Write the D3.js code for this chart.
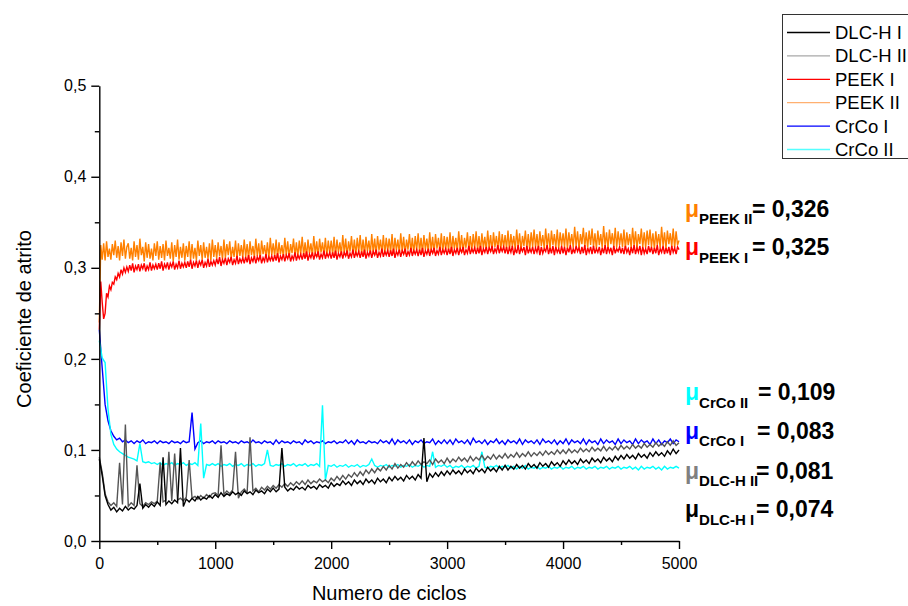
<!DOCTYPE html>
<html>
<head>
<meta charset="utf-8">
<script src="https://cdn.jsdelivr.net/npm/d3@7"></script>
<style>
  html, body { margin: 0; padding: 0; background: #fff; }
  svg { display: block; font-family: Arial, "Liberation Sans", Helvetica, sans-serif; }
</style>
</head>
<body>
<svg id="chart" width="908" height="606"></svg>
<script>
// ---------------- DATA ----------------
const cycleMax = 5000;

const seriesNames = ["DLC-H I", "DLC-H II", "PEEK I", "PEEK II", "CrCo I", "CrCo II"];
const seriesColors = ["#000000", "#555555", "#ff0000", "#ff8000", "#0000ff", "#00ffff"];
const legendColors = ["#000000", "#a8a8a8", "#ff0000", "#ffb070", "#0000ff", "#55ffff"];
// sampling step (cycles) of each trace, same order as seriesNames
const seriesSteps = [25, 25, 12.5, 12.5, 25, 25];

const dlcH1 = [
0.090,0.072,0.050,0.040,0.034,0.037,0.032,0.036,0.033,0.038,0.034,0.037,0.035,0.039,0.063,0.036,0.040,0.037,0.041,0.038,
0.043,0.039,0.092,0.040,0.044,0.041,0.045,0.042,0.102,0.038,0.046,0.043,0.047,0.044,0.049,0.045,0.048,0.046,0.050,0.047,
0.051,0.048,0.053,0.049,0.052,0.050,0.054,0.051,0.053,0.050,0.055,0.052,0.054,0.051,0.056,0.053,0.055,0.052,0.057,0.054,
0.058,0.054,0.057,0.102,0.059,0.055,0.058,0.056,0.060,0.057,0.059,0.056,0.061,0.058,0.060,0.057,0.062,0.059,0.061,0.058,
0.064,0.060,0.063,0.061,0.066,0.062,0.065,0.061,0.067,0.063,0.066,0.062,0.068,0.064,0.067,0.063,0.069,0.065,0.068,0.064,
0.070,0.066,0.071,0.067,0.070,0.066,0.072,0.068,0.071,0.067,0.073,0.069,0.113,0.065,0.074,0.070,0.075,0.071,0.076,0.072,
0.077,0.073,0.078,0.074,0.077,0.073,0.079,0.075,0.078,0.074,0.080,0.076,0.079,0.075,0.081,0.077,0.080,0.076,0.082,0.078,
0.083,0.078,0.082,0.079,0.084,0.080,0.083,0.079,0.085,0.081,0.084,0.080,0.086,0.082,0.085,0.081,0.087,0.083,0.086,0.082,
0.088,0.084,0.089,0.085,0.088,0.084,0.090,0.086,0.089,0.085,0.091,0.087,0.090,0.086,0.092,0.088,0.091,0.087,0.093,0.089,
0.094,0.090,0.095,0.091,0.094,0.090,0.096,0.092,0.095,0.091,0.097,0.093,0.098,0.094,0.097,0.093,0.099,0.095,0.101,0.096,
0.100];

const dlcH2 = [
0.092,0.075,0.052,0.043,0.039,0.042,0.038,0.086,0.040,0.128,0.038,0.042,0.039,0.083,0.041,0.038,0.042,0.040,0.043,0.041,
0.044,0.086,0.043,0.045,0.098,0.044,0.096,0.045,0.047,0.044,0.048,0.089,0.047,0.049,0.046,0.050,0.047,0.051,0.048,0.052,
0.053,0.050,0.105,0.051,0.055,0.052,0.056,0.098,0.047,0.054,0.057,0.053,0.114,0.055,0.058,0.054,0.059,0.056,0.060,0.057,
0.061,0.058,0.062,0.059,0.063,0.060,0.064,0.061,0.065,0.062,0.066,0.062,0.067,0.063,0.066,0.064,0.068,0.065,0.067,0.064,
0.069,0.066,0.071,0.067,0.072,0.068,0.073,0.070,0.075,0.071,0.076,0.072,0.078,0.074,0.079,0.075,0.080,0.077,0.082,0.078,
0.083,0.079,0.085,0.080,0.084,0.081,0.086,0.082,0.087,0.083,0.088,0.084,0.087,0.085,0.089,0.084,0.090,0.086,0.089,0.085,
0.091,0.086,0.090,0.087,0.092,0.088,0.091,0.087,0.093,0.088,0.092,0.089,0.094,0.089,0.093,0.090,0.095,0.090,0.094,0.091,
0.096,0.091,0.095,0.092,0.097,0.092,0.096,0.093,0.098,0.093,0.097,0.094,0.098,0.094,0.099,0.095,0.098,0.095,0.100,0.096,
0.100,0.096,0.101,0.097,0.100,0.097,0.102,0.098,0.101,0.098,0.103,0.099,0.102,0.099,0.104,0.099,0.103,0.100,0.104,0.100,
0.105,0.101,0.104,0.101,0.106,0.102,0.105,0.102,0.107,0.103,0.106,0.103,0.108,0.104,0.107,0.104,0.109,0.105,0.110,0.105,
0.108];

const peek1 = [
0.232,0.285,0.262,0.244,0.250,0.272,0.268,0.280,0.276,0.284,0.282,0.290,0.287,0.294,0.290,0.298,0.293,0.300,0.295,0.301,
0.296,0.303,0.297,0.305,0.295,0.302,0.298,0.304,0.296,0.303,0.299,0.305,0.296,0.302,0.298,0.306,0.297,0.303,0.299,0.304,
0.298,0.305,0.299,0.307,0.297,0.304,0.300,0.306,0.298,0.305,0.301,0.307,0.298,0.304,0.300,0.308,0.299,0.305,0.301,0.306,
0.300,0.307,0.301,0.309,0.299,0.306,0.302,0.308,0.300,0.307,0.303,0.309,0.300,0.306,0.302,0.310,0.301,0.307,0.303,0.308,
0.303,0.310,0.304,0.312,0.302,0.309,0.305,0.311,0.303,0.310,0.306,0.312,0.303,0.309,0.305,0.313,0.304,0.310,0.306,0.311,
0.305,0.312,0.306,0.314,0.304,0.311,0.307,0.313,0.305,0.312,0.308,0.314,0.305,0.311,0.307,0.315,0.306,0.312,0.308,0.313,
0.307,0.314,0.308,0.316,0.306,0.313,0.309,0.315,0.307,0.314,0.310,0.316,0.307,0.313,0.309,0.317,0.308,0.314,0.310,0.315,
0.309,0.316,0.310,0.318,0.308,0.315,0.311,0.317,0.309,0.316,0.312,0.318,0.309,0.315,0.311,0.319,0.310,0.316,0.312,0.317,
0.310,0.317,0.311,0.319,0.309,0.316,0.312,0.318,0.310,0.317,0.313,0.319,0.310,0.316,0.312,0.320,0.311,0.317,0.313,0.318,
0.311,0.318,0.312,0.320,0.310,0.317,0.313,0.319,0.311,0.318,0.314,0.320,0.311,0.317,0.313,0.321,0.312,0.318,0.314,0.319,
0.312,0.319,0.313,0.321,0.311,0.318,0.314,0.320,0.312,0.319,0.315,0.321,0.312,0.318,0.314,0.322,0.313,0.319,0.315,0.320,
0.313,0.320,0.314,0.322,0.312,0.319,0.315,0.321,0.313,0.320,0.316,0.322,0.313,0.319,0.315,0.323,0.314,0.320,0.316,0.321,
0.314,0.321,0.315,0.323,0.313,0.320,0.316,0.322,0.314,0.321,0.317,0.323,0.314,0.320,0.316,0.324,0.315,0.321,0.317,0.322,
0.315,0.322,0.316,0.324,0.314,0.321,0.317,0.323,0.315,0.322,0.318,0.324,0.315,0.321,0.317,0.325,0.316,0.322,0.318,0.323,
0.316,0.323,0.315,0.322,0.317,0.324,0.314,0.321,0.316,0.325,0.315,0.322,0.318,0.323,0.314,0.324,0.316,0.321,0.317,0.323,
0.315,0.322,0.317,0.324,0.314,0.323,0.316,0.321,0.318,0.325,0.315,0.322,0.316,0.324,0.314,0.323,0.317,0.321,0.315,0.324,
0.316,0.323,0.314,0.322,0.317,0.325,0.315,0.321,0.316,0.324,0.318,0.322,0.315,0.323,0.316,0.325,0.314,0.322,0.317,0.323,
0.315,0.324,0.316,0.321,0.317,0.323,0.314,0.322,0.316,0.325,0.315,0.323,0.317,0.322,0.314,0.324,0.316,0.321,0.318,0.323,
0.316,0.322,0.315,0.324,0.317,0.321,0.314,0.323,0.316,0.325,0.315,0.322,0.317,0.324,0.314,0.323,0.316,0.321,0.315,0.324,
0.317,0.323,0.315,0.322,0.316,0.325,0.314,0.321,0.317,0.324,0.315,0.322,0.316,0.323,0.314,0.324,0.317,0.322,0.315,0.323,
0.320];

const peek2 = [
0.240,0.325,0.309,0.327,0.308,0.329,0.312,0.321,0.309,0.326,0.314,0.330,0.311,0.324,0.308,0.328,0.313,0.331,0.310,0.323,
0.327,0.310,0.322,0.308,0.329,0.312,0.325,0.309,0.332,0.314,0.323,0.307,0.328,0.311,0.326,0.310,0.321,0.308,0.327,0.313,
0.329,0.309,0.324,0.311,0.326,0.308,0.330,0.313,0.322,0.310,0.328,0.307,0.325,0.312,0.331,0.309,0.323,0.311,0.327,0.308,
0.324,0.312,0.329,0.309,0.326,0.310,0.322,0.308,0.330,0.313,0.325,0.309,0.328,0.311,0.323,0.310,0.327,0.308,0.331,0.312,
0.325,0.310,0.328,0.313,0.324,0.309,0.331,0.311,0.326,0.314,0.329,0.310,0.323,0.312,0.330,0.309,0.327,0.313,0.325,0.311,
0.331,0.312,0.326,0.310,0.329,0.314,0.324,0.311,0.332,0.313,0.327,0.309,0.330,0.315,0.325,0.312,0.328,0.310,0.333,0.314,
0.327,0.313,0.331,0.311,0.328,0.315,0.325,0.312,0.333,0.314,0.329,0.311,0.326,0.316,0.332,0.313,0.328,0.312,0.330,0.315,
0.334,0.314,0.328,0.312,0.331,0.316,0.327,0.313,0.335,0.315,0.329,0.312,0.332,0.317,0.328,0.314,0.333,0.313,0.330,0.316,
0.330,0.315,0.334,0.313,0.331,0.317,0.328,0.314,0.336,0.316,0.332,0.313,0.329,0.318,0.335,0.315,0.331,0.314,0.333,0.317,
0.336,0.316,0.331,0.314,0.334,0.318,0.330,0.315,0.337,0.317,0.332,0.314,0.335,0.319,0.331,0.316,0.336,0.315,0.333,0.318,
0.332,0.317,0.337,0.315,0.333,0.319,0.331,0.316,0.338,0.318,0.334,0.315,0.331,0.320,0.337,0.317,0.333,0.316,0.335,0.319,
0.338,0.318,0.333,0.316,0.336,0.320,0.332,0.317,0.339,0.319,0.334,0.316,0.337,0.321,0.333,0.318,0.338,0.317,0.335,0.320,
0.334,0.319,0.339,0.317,0.335,0.321,0.333,0.318,0.340,0.320,0.336,0.317,0.333,0.322,0.339,0.319,0.335,0.318,0.337,0.321,
0.340,0.320,0.335,0.318,0.338,0.322,0.334,0.319,0.341,0.321,0.336,0.318,0.339,0.323,0.335,0.320,0.340,0.319,0.337,0.322,
0.336,0.321,0.341,0.319,0.337,0.323,0.335,0.320,0.342,0.322,0.338,0.319,0.335,0.324,0.341,0.321,0.337,0.320,0.339,0.323,
0.342,0.322,0.337,0.320,0.340,0.324,0.336,0.321,0.343,0.323,0.338,0.320,0.341,0.325,0.337,0.322,0.342,0.321,0.339,0.324,
0.338,0.323,0.343,0.321,0.339,0.325,0.337,0.322,0.345,0.324,0.340,0.321,0.337,0.326,0.344,0.323,0.339,0.322,0.341,0.325,
0.343,0.323,0.338,0.321,0.341,0.325,0.337,0.322,0.346,0.324,0.339,0.321,0.342,0.326,0.338,0.323,0.344,0.322,0.340,0.325,
0.338,0.323,0.342,0.321,0.339,0.325,0.337,0.322,0.344,0.324,0.340,0.321,0.337,0.326,0.343,0.323,0.339,0.322,0.341,0.325,
0.342,0.323,0.338,0.321,0.340,0.325,0.337,0.322,0.345,0.324,0.339,0.321,0.341,0.326,0.338,0.323,0.343,0.322,0.340,0.325,
0.330];

const crco1 = [
0.232,0.190,0.150,0.132,0.121,0.115,0.111,0.113,0.109,0.111,0.108,0.110,0.107,0.110,0.108,0.111,0.107,0.109,0.108,0.110,
0.107,0.110,0.108,0.109,0.107,0.110,0.108,0.109,0.107,0.110,0.108,0.109,0.141,0.101,0.108,0.110,0.107,0.109,0.108,0.110,
0.107,0.110,0.108,0.109,0.107,0.110,0.108,0.109,0.107,0.110,0.108,0.109,0.107,0.111,0.108,0.109,0.107,0.110,0.108,0.109,
0.106,0.111,0.107,0.110,0.108,0.109,0.107,0.110,0.108,0.109,0.106,0.111,0.108,0.110,0.107,0.109,0.108,0.110,0.107,0.109,
0.108,0.110,0.107,0.109,0.108,0.111,0.107,0.110,0.106,0.111,0.108,0.109,0.107,0.110,0.108,0.109,0.107,0.111,0.108,0.110,
0.107,0.112,0.106,0.111,0.108,0.110,0.107,0.111,0.106,0.110,0.108,0.111,0.107,0.109,0.108,0.112,0.106,0.110,0.107,0.111,
0.107,0.111,0.106,0.112,0.108,0.110,0.107,0.111,0.106,0.113,0.108,0.110,0.107,0.111,0.106,0.110,0.108,0.112,0.107,0.110,
0.106,0.111,0.108,0.110,0.107,0.112,0.106,0.111,0.108,0.110,0.107,0.111,0.106,0.112,0.108,0.110,0.107,0.111,0.106,0.110,
0.107,0.112,0.106,0.111,0.108,0.110,0.107,0.112,0.106,0.111,0.108,0.110,0.106,0.112,0.107,0.111,0.108,0.110,0.106,0.112,
0.107,0.111,0.108,0.110,0.106,0.112,0.107,0.111,0.108,0.110,0.106,0.112,0.107,0.111,0.106,0.110,0.108,0.112,0.107,0.111,
0.109];

const crco2 = [
0.220,0.201,0.196,0.145,0.117,0.106,0.101,0.098,0.096,0.094,0.092,0.091,0.090,0.088,0.107,0.087,0.086,0.087,0.085,0.086,
0.084,0.086,0.083,0.085,0.084,0.086,0.083,0.085,0.084,0.086,0.083,0.085,0.084,0.086,0.083,0.129,0.069,0.084,0.083,0.085,
0.083,0.085,0.082,0.084,0.083,0.085,0.082,0.084,0.083,0.085,0.082,0.084,0.083,0.085,0.082,0.084,0.083,0.085,0.100,0.083,
0.082,0.084,0.083,0.085,0.082,0.084,0.083,0.085,0.082,0.084,0.083,0.085,0.082,0.084,0.083,0.085,0.082,0.149,0.067,0.083,
0.082,0.084,0.081,0.083,0.082,0.084,0.081,0.083,0.082,0.084,0.081,0.083,0.082,0.084,0.090,0.083,0.081,0.083,0.082,0.084,
0.081,0.083,0.082,0.084,0.081,0.083,0.082,0.084,0.081,0.083,0.082,0.084,0.081,0.083,0.082,0.098,0.081,0.083,0.082,0.084,
0.081,0.083,0.080,0.082,0.081,0.083,0.080,0.082,0.081,0.083,0.080,0.082,0.098,0.081,0.080,0.082,0.081,0.083,0.080,0.082,
0.081,0.083,0.080,0.082,0.079,0.082,0.080,0.083,0.079,0.081,0.080,0.082,0.079,0.081,0.080,0.082,0.079,0.081,0.080,0.082,
0.079,0.081,0.080,0.082,0.079,0.081,0.080,0.082,0.079,0.081,0.080,0.082,0.079,0.081,0.080,0.082,0.079,0.081,0.080,0.082,
0.079,0.081,0.080,0.082,0.079,0.081,0.078,0.082,0.079,0.081,0.080,0.082,0.079,0.081,0.078,0.082,0.079,0.081,0.080,0.082,
0.080];

const xTickValues = [0, 1000, 2000, 3000, 4000, 5000];
const xMinorTicks = [500, 1500, 2500, 3500, 4500];
const yTickValues = [0, 0.1, 0.2, 0.3, 0.4, 0.5];
const yMinorTicks = [0.05, 0.15, 0.25, 0.35, 0.45];

const xTitle = "Numero de ciclos";
const yTitle = "Coeficiente de atrito";

// annotations (text only)
const annSubs = ["PEEK II", "PEEK I", "CrCo II", "CrCo I", "DLC-H II", "DLC-H I"];
const annValues = ["0,326", "0,325", "0,109", "0,083", "0,081", "0,074"];
const annColors = ["#ff8000", "#ff0000", "#00ffff", "#0000ff", "#808080", "#000000"];

// ---------------- LAYOUT ----------------
const plot = { left: 99.3, right: 679, top: 85.7, bottom: 541 };
const annLayout = [
  { y: 216.7, eqX: 752 }, { y: 255, eqX: 752 },
  { y: 400, eqX: 758 }, { y: 438.5, eqX: 757 },
  { y: 478.5, eqX: 756 }, { y: 517, eqX: 756 }
];

const svg = d3.select("#chart");
const x = d3.scaleLinear().domain([0, cycleMax]).range([plot.left, plot.right]);
const y = d3.scaleLinear().domain([0, 0.5]).range([plot.bottom, plot.top]);

const fmtLocale = d3.formatLocale({ decimal: ",", thousands: ".", grouping: [3], currency: ["", ""] });
const yFmt = fmtLocale.format(".1f");

// ---------------- SERIES ----------------
const seriesData = [dlcH1, dlcH2, peek1, peek2, crco1, crco2];
const drawOrder = [3, 2, 4, 5, 1, 0];
const line = d3.line().x(d => x(d[0])).y(d => y(d[1]));

const gLines = svg.append("g");
drawOrder.forEach(i => {
  const step = seriesSteps[i];
  const pts = seriesData[i].map((v, k) => [k * step, v]);
  gLines.append("path")
    .attr("d", line(pts))
    .attr("fill", "none")
    .attr("stroke", seriesColors[i])
    .attr("stroke-width", 1.4)
    .attr("stroke-linejoin", "miter");
});

// ---------------- AXES ----------------
svg.append("g").attr("transform", `translate(0,${plot.bottom})`)
  .call(d3.axisBottom(x).tickValues(xTickValues).tickSize(8).tickPadding(9).tickSizeOuter(0).tickFormat(d3.format("d")));
svg.append("g").attr("transform", `translate(0,${plot.bottom})`)
  .call(d3.axisBottom(x).tickValues(xMinorTicks).tickSize(4).tickSizeOuter(0).tickFormat(""))
  .select(".domain").remove();

svg.append("g").attr("transform", `translate(${plot.left},0)`)
  .call(d3.axisLeft(y).tickValues(yTickValues).tickSize(8).tickPadding(5).tickSizeOuter(0).tickFormat(yFmt));
svg.append("g").attr("transform", `translate(${plot.left},0)`)
  .call(d3.axisLeft(y).tickValues(yMinorTicks).tickSize(4.5).tickSizeOuter(0).tickFormat(""))
  .select(".domain").remove();

svg.selectAll(".domain").attr("stroke", "#000").attr("stroke-width", 1.4);
svg.selectAll(".tick line").attr("stroke", "#000").attr("stroke-width", 1.4);
svg.selectAll(".tick text").attr("font-size", 16).attr("fill", "#000")
  .attr("font-family", "Arial, 'Liberation Sans', sans-serif");

// axis titles
svg.append("text")
  .attr("x", (plot.left + plot.right) / 2).attr("y", 600)
  .attr("text-anchor", "middle").attr("font-size", 20).attr("fill", "#000")
  .text(xTitle);
svg.append("text")
  .attr("transform", `translate(31,319) rotate(-90)`)
  .attr("text-anchor", "middle").attr("font-size", 20).attr("fill", "#000")
  .text(yTitle);

// ---------------- LEGEND ----------------
const lg = svg.append("g");
lg.append("rect")
  .attr("x", 782.5).attr("y", 14.5).attr("width", 140).attr("height", 144)
  .attr("fill", "#fff").attr("stroke", "#333").attr("stroke-width", 1);
seriesNames.forEach((name, i) => {
  const cy = 32.5 + i * 23.4;
  lg.append("line")
    .attr("x1", 787).attr("x2", 830).attr("y1", cy).attr("y2", cy)
    .attr("stroke", legendColors[i]).attr("stroke-width", 1.3);
  lg.append("text")
    .attr("x", 835).attr("y", cy + 6.5)
    .attr("font-size", 18.5).attr("fill", "#000")
    .text(name);
});

// ---------------- ANNOTATIONS ----------------
annSubs.forEach((sub, i) => {
  const L = annLayout[i];
  const t = svg.append("text")
    .attr("x", 685).attr("y", L.y)
    .attr("font-weight", "bold").attr("fill", "#000");
  t.append("tspan").attr("font-size", 23).attr("fill", annColors[i]).text("\u03BC");
  t.append("tspan").attr("font-size", 15).attr("dy", 7.5).text(sub);
  svg.append("text")
    .attr("x", L.eqX).attr("y", L.y)
    .attr("font-weight", "bold").attr("font-size", 23).attr("fill", "#000")
    .text("= " + annValues[i]);
});
</script>
</body>
</html>
